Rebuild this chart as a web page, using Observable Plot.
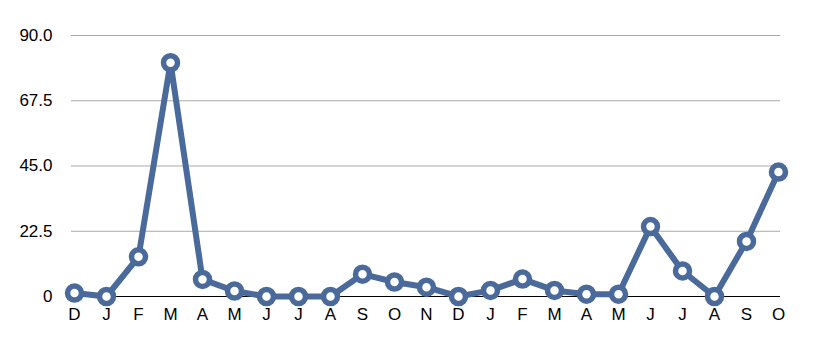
<!DOCTYPE html>
<html>
<head>
<meta charset="utf-8">
<script src="https://cdn.jsdelivr.net/npm/d3@7"></script>
<script src="https://cdn.jsdelivr.net/npm/@observablehq/plot@0.6"></script>
<style>
  html, body { margin: 0; padding: 0; background: #fff; }
  svg { display: block; }
</style>
</head>
<body>
<div id="chart"></div>
<script>
const months = ["D","J","F","M","A","M","J","J","A","S","O","N","D","J","F","M","A","M","J","J","A","S","O"];
const values = [1.2, 0, 13.7, 80.6, 5.9, 1.9, 0, 0, 0, 7.7, 5.0, 3.2, 0, 2.1, 6.0, 2.1, 0.8, 0.8, 24.1, 8.8, 0, 19.0, 42.9];
const yTicks = [0, 22.5, 45, 67.5, 90];

const data = values.map((v, i) => ({i, v}));
const color = "#4a6a9b";

const chart = Plot.plot({
  width: 816,
  height: 353,
  marginLeft: 71,
  marginRight: 36,
  marginTop: 35,
  marginBottom: 57,
  style: {fontFamily: "Liberation Sans, Arial, Helvetica, sans-serif", color: "#000", background: "#fff"},
  x: {type: "point", domain: d3.range(months.length), padding: 0},
  y: {domain: [0, 90]},
  marks: [
    Plot.gridY(yTicks.filter(d => d > 0), {stroke: "#a8a8a8", strokeOpacity: 1, strokeWidth: 1}),
    Plot.ruleY([0], {stroke: "#000", strokeWidth: 1}),
    Plot.axisX({tickFormat: i => months[i], tickSize: 0, tickPadding: 11, label: null, fontSize: 17}),
    Plot.axisY(yTicks, {tickFormat: d => d === 0 ? "0" : d.toFixed(1), tickSize: 0, tickPadding: 19, label: null, fontSize: 17}),
    Plot.line(data, {x: "i", y: "v", stroke: color, strokeWidth: 6, strokeLinejoin: "round"}),
    Plot.dot(data, {x: "i", y: "v", r: 7, fill: "#fff", stroke: color, strokeWidth: 5.5})
  ]
});
document.getElementById("chart").appendChild(chart);
</script>
</body>
</html>
